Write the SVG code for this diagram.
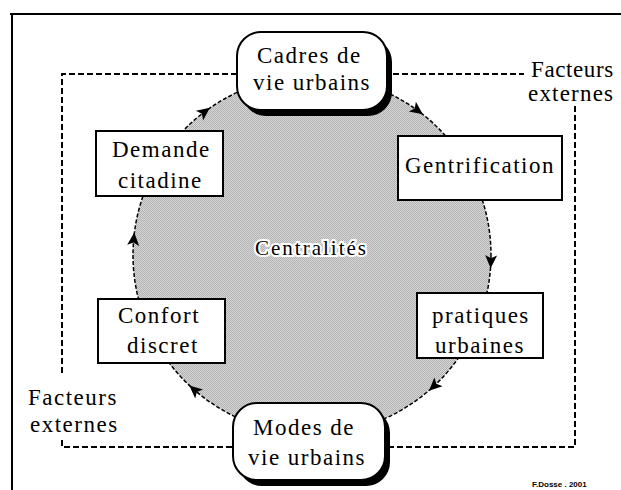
<svg xmlns="http://www.w3.org/2000/svg" width="621" height="490" viewBox="0 0 621 490">
<defs>
<pattern id="dither" width="2" height="2" patternUnits="userSpaceOnUse">
<rect width="2" height="2" fill="#d6d6d6"/>
<rect width="1" height="1" fill="#b2b2b2"/>
<rect x="1" y="1" width="1" height="1" fill="#b2b2b2"/>
</pattern>
<path id="arrow" d="M7,0 L-6,-6 L-3,0 L-6,6 Z" fill="#000"/>
</defs>
<rect width="621" height="490" fill="#fff"/>
<g id="frame" stroke="#000" stroke-width="2">
<line x1="10" y1="14" x2="621" y2="14"/>
<line x1="12" y1="13" x2="12" y2="490"/>
</g>
<g id="externes-box" fill="none" stroke="#000" stroke-width="2" stroke-dasharray="6 3">
<polyline points="62,373 62,74 237,74"/>
<line x1="393" y1="74" x2="524" y2="74"/>
<polyline points="575,106 575,447 390,447"/>
<polyline points="62,440 62,447 233,447"/>
</g>
<g id="centralites">
<circle cx="312" cy="255" r="179" fill="url(#dither)" stroke="#000" stroke-width="1.5" stroke-dasharray="4 2"/>
<text x="255" y="255" font-family="Liberation Serif" style="font-family:'Liberation Serif',serif" font-size="21" letter-spacing="2" stroke="#fff" stroke-width="4" paint-order="stroke" fill="#000">Centralités</text>
</g>
<g id="connectors">
<use href="#arrow" transform="translate(204.3,112) rotate(-37)"/>
<use href="#arrow" transform="translate(417.2,110.2) rotate(36)"/>
<use href="#arrow" transform="translate(490.9,261.2) rotate(92)"/>
<use href="#arrow" transform="translate(434.1,385.9) rotate(137)"/>
<use href="#arrow" transform="translate(194.6,390.1) rotate(221)"/>
<use href="#arrow" transform="translate(133.7,239.4) rotate(275)"/>
</g>
<g font-family="Liberation Serif" style="font-family:'Liberation Serif',serif" font-size="23" fill="#000" letter-spacing="1.5">
<g id="cadres">
<rect x="242" y="38" width="150" height="78" rx="24" fill="#000"/>
<rect x="237" y="32" width="150" height="78" rx="24" fill="#fff" stroke="#000" stroke-width="2"/>
<text x="257" y="63">Cadres de</text>
<text x="253" y="90">vie urbains</text>
</g>
<g id="gentrification">
<rect x="398" y="136" width="164" height="64" fill="#fff" stroke="#000" stroke-width="2"/>
<text x="405" y="173">Gentrification</text>
</g>
<g id="pratiques">
<rect x="417" y="293" width="126" height="65" fill="#fff" stroke="#000" stroke-width="2"/>
<text x="432" y="323">pratiques</text>
<text x="435" y="353">urbaines</text>
</g>
<g id="modes">
<rect x="238" y="409" width="152" height="77" rx="24" fill="#000"/>
<rect x="233" y="403" width="152" height="77" rx="24" fill="#fff" stroke="#000" stroke-width="2"/>
<text x="253" y="435">Modes de</text>
<text x="248" y="465">vie urbains</text>
</g>
<g id="confort">
<rect x="98" y="299" width="127" height="64" fill="#fff" stroke="#000" stroke-width="2"/>
<text x="118" y="323">Confort</text>
<text x="127" y="353">discret</text>
</g>
<g id="demande">
<rect x="96" y="131" width="127" height="65" fill="#fff" stroke="#000" stroke-width="2"/>
<text x="112" y="157">Demande</text>
<text x="118" y="188">citadine</text>
</g>
<g id="facteurs-top">
<text x="531" y="77" letter-spacing="0.6">Facteurs</text>
<text x="528" y="101" letter-spacing="1.2">externes</text>
</g>
<g id="facteurs-bottom">
<text x="28" y="405">Facteurs</text>
<text x="30" y="432">externes</text>
</g>
</g>
<text x="532" y="487" font-family="Liberation Sans" font-size="8" font-weight="bold" fill="#000">F.Dosse . 2001</text>
</svg>
